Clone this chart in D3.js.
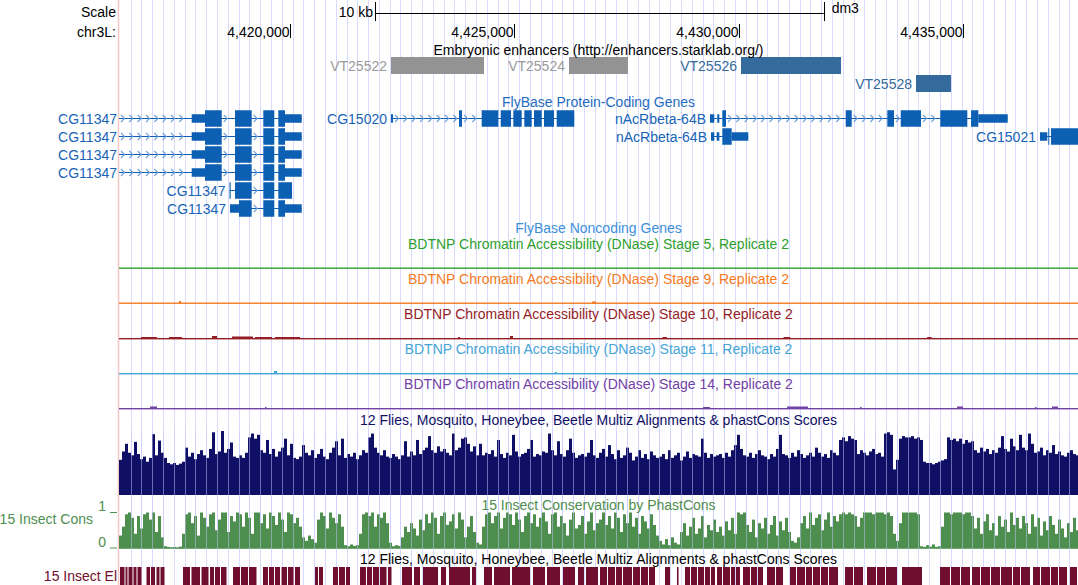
<!DOCTYPE html>
<html><head><meta charset="utf-8">
<script src="https://cdn.jsdelivr.net/npm/d3@7"></script>
<style>
body{margin:0;background:#fff}
svg{display:block}
text{font-family:"Liberation Sans",Arial,Helvetica,sans-serif;font-size:14px}
</style></head>
<body><svg id="c" width="1078" height="585"></svg>
<script>
// ---------------- DATA ----------------
const chromName = "chr3L:";
const assembly = "dm3";
const viewStart = 4416189, viewEnd = 4437562;
const rulerTicks = [4420000, 4425000, 4430000, 4435000];
const scaleBarBp = [4421894, 4431894];
const scaleBarLabel = "10 kb";

const enhancerTitle = "Embryonic enhancers (http://enhancers.starklab.org/)";
const enhancerNames = ["VT25522", "VT25524", "VT25526", "VT25528"];
const enhancerStarts = [4422251, 4426218, 4430052, 4433952];
const enhancerEnds = [4424324, 4427533, 4432280, 4434732];
const enhancerRows = [0, 0, 0, 1];
const enhancerActive = [false, false, true, true];

const geneTitle = "FlyBase Protein-Coding Genes";
const ncGeneTitle = "FlyBase Noncoding Genes";
const geneNames = ["CG11347", "CG11347", "CG11347", "CG11347", "CG11347", "CG11347",
  "CG15020", "nAcRbeta-64B", "nAcRbeta-64B", "CG15021"];
const geneRows = [0, 1, 2, 3, 4, 5, 0, 0, 1, 1];
const cg11347Full = [[4415600, 4415700], [4417809, 4418478], [4418774, 4419146], [4419405, 4419650], [4419739, 4420261]];
const geneExons = [
  cg11347Full, cg11347Full, cg11347Full, cg11347Full,
  [[4418652, 4418678], [4418774, 4419146], [4419405, 4419650], [4419739, 4420045]],
  [[4418663, 4419146], [4419405, 4419650], [4419739, 4420261]],
  [[4422251, 4422296], [4423767, 4423833], [4424272, 4424643], [4424696, 4424926], [4424977, 4425164],
   [4425222, 4425387], [4425438, 4425610], [4425661, 4425884], [4425944, 4426336]],
  [[4429361, 4429456], [4429523, 4429568], [4429635, 4429717], [4432385, 4432519], [4433312, 4433461],
   [4433611, 4434063], [4434493, 4435095], [4435178, 4435996]],
  [[4429383, 4429456], [4429510, 4429568], [4429635, 4430214]],
  [[4436715, 4436878], [4436900, 4436905], [4436960, 4437800]]
];
const geneCds = [
  [4418106, 4419889], [4418106, 4419889], [4418106, 4419889], [4418106, 4419889],
  [4418652, 4420045], [4418863, 4419889], [4423767, 4426336],
  [4429635, 4435340], [4429635, 4429844], [4436900, 4437800]
];

const dnaseTitles = [
  "BDTNP Chromatin Accessibility (DNase) Stage 5, Replicate 2",
  "BDTNP Chromatin Accessibility (DNase) Stage 9, Replicate 2",
  "BDTNP Chromatin Accessibility (DNase) Stage 10, Replicate 2",
  "BDTNP Chromatin Accessibility (DNase) Stage 11, Replicate 2",
  "BDTNP Chromatin Accessibility (DNase) Stage 14, Replicate 2"
];
// [start, end, signal]
const dnaseStage5 = [];
const dnaseStage9 = [[4417526, 4417571, 1.5], [4426731, 4426820, 1]];
const dnaseStage10 = [[4416679, 4417036, 1], [4417303, 4417593, 1], [4418262, 4418373, 2], [4418707, 4419175, 1.5],
  [4419220, 4419599, 1], [4419666, 4420223, 1], [4423744, 4423789, 1], [4424903, 4424970, 2],
  [4428300, 4428400, 1], [4431000, 4431150, 1], [4434200, 4434300, 1]];
const dnaseStage11 = [[4419643, 4419710, 2], [4425900, 4425950, 1]];
const dnaseStage14 = [[4416880, 4417036, 1.5], [4419443, 4419465, 1], [4429205, 4429361, 1], [4431077, 4431545, 1.5],
  [4432704, 4432726, 1], [4434866, 4435000, 1.5], [4436604, 4436627, 1], [4436983, 4437116, 1.5]];

const multizTitle = "12 Flies, Mosquito, Honeybee, Beetle Multiz Alignments & phastCons Scores";
const binStart = 4416189, binSize = 66.86;
const multizScores = [
  55, 68, 80, 66, 62, 83, 64, 56, 60, 52, 58, 95, 62, 85, 66, 58, 50, 48, 50, 47,
  49, 52, 74, 60, 66, 56, 64, 70, 62, 58, 72, 98, 64, 68, 100, 66, 72, 82, 60, 58,
  62, 58, 66, 90, 96, 88, 94, 70, 66, 86, 64, 72, 60, 68, 74, 88, 62, 80, 58, 56,
  60, 78, 66, 62, 70, 58, 64, 72, 60, 56, 66, 74, 84, 62, 88, 58, 64, 60, 66, 56,
  62, 70, 66, 90, 96, 74, 66, 62, 70, 60, 58, 64, 60, 56, 62, 84, 60, 68, 62, 86,
  64, 70, 74, 92, 70, 66, 76, 68, 72, 66, 62, 96, 70, 74, 88, 90, 80, 68, 76, 62,
  80, 62, 66, 64, 70, 60, 86, 64, 58, 66, 62, 94, 68, 60, 64, 66, 72, 86, 60, 64,
  62, 68, 66, 96, 70, 62, 84, 64, 60, 70, 88, 66, 58, 62, 64, 60, 66, 86, 62, 58,
  66, 72, 60, 78, 64, 56, 70, 58, 62, 74, 66, 54, 60, 70, 58, 64, 56, 68, 62, 58,
  60, 64, 56, 70, 58, 62, 66, 54, 60, 68, 58, 64, 62, 60, 88, 66, 58, 64, 60, 62,
  64, 58, 66, 60, 70, 78, 94, 72, 62, 60, 66, 58, 64, 70, 62, 60, 56, 64, 60, 72,
  94, 64, 62, 58, 66, 60, 70, 64, 58, 62, 66, 60, 74, 66, 60, 64, 58, 70, 66, 62,
  86, 90, 84, 92, 88, 86, 64, 70, 66, 62, 68, 72, 64, 66, 60, 96, 98, 94, 40, 55,
  88, 92, 90, 90, 92, 88, 90, 86, 52, 50, 50, 48, 50, 52, 54, 56, 90, 86, 88, 84,
  88, 80, 86, 82, 84, 70, 66, 74, 68, 72, 64, 70, 66, 74, 92, 72, 68, 88, 76, 70,
  94, 74, 70, 96, 80, 66, 68, 74, 62, 70, 66, 78, 64, 68, 62, 60, 66, 70, 64, 62
];

const consTitle = "15 Insect Conservation by PhastCons";
const consLabel = "15 Insect Cons";
const consAxisTicks = [0, 1];
const phastConsScores = [
  0.35, 0.60, 0.95, 1.00, 0.85, 0.40, 0.90, 0.55, 0.95, 1.00, 0.80, 1.00, 0.45, 0.90, 0.30, 0.05, 0.03, 0.02, 0.03, 0.02,
  0.04, 0.40, 0.95, 1.00, 0.70, 0.90, 0.35, 1.00, 0.85, 0.60, 0.95, 1.00, 0.50, 0.80, 1.00, 1.00, 0.45, 0.90, 0.75, 1.00,
  0.95, 0.60, 1.00, 0.85, 0.40, 1.00, 1.00, 0.70, 0.95, 0.55, 1.00, 0.90, 0.65, 1.00, 0.80, 0.45, 1.00, 0.95, 0.70, 0.85,
  0.60, 0.30, 0.20, 0.35, 0.25, 0.15, 0.80, 1.00, 0.90, 0.55, 1.00, 0.85, 0.70, 0.95, 0.60, 0.08, 0.05, 0.10, 0.06, 0.08,
  0.40, 0.95, 1.00, 0.90, 1.00, 0.60, 0.95, 0.85, 1.00, 0.70, 0.15, 0.05, 0.08, 0.06, 0.30, 0.60, 0.45, 0.70, 0.55, 0.35,
  0.80, 0.50, 0.95, 0.70, 1.00, 0.85, 0.40, 0.90, 1.00, 0.65, 0.75, 0.95, 0.55, 1.00, 0.80, 0.30, 0.60, 0.90, 0.45, 0.15,
  0.10, 0.60, 0.95, 1.00, 0.70, 0.90, 1.00, 0.55, 0.85, 1.00, 0.95, 0.65, 1.00, 0.80, 0.45, 0.90, 1.00, 0.70, 0.95, 0.60,
  0.85, 1.00, 0.75, 0.40, 0.95, 1.00, 0.60, 0.90, 0.70, 0.35, 0.80, 1.00, 0.55, 0.65, 0.90, 0.40, 0.75, 1.00, 0.50, 0.70,
  0.80, 1.00, 0.65, 0.90, 0.55, 1.00, 0.85, 0.45, 0.95, 0.70, 1.00, 0.60, 0.85, 0.40, 0.90, 0.75, 0.55, 0.95, 0.65, 0.35,
  0.20, 0.10, 0.25, 0.08, 0.30, 0.15, 0.10, 0.45, 0.70, 0.35, 0.60, 0.85, 0.40, 0.55, 0.90, 0.30, 0.65, 0.50, 0.80, 0.45,
  0.60, 0.35, 0.75, 0.50, 0.85, 0.40, 1.00, 0.95, 1.00, 0.65, 0.45, 0.80, 0.30, 0.70, 0.55, 0.85, 0.40, 0.65, 0.90, 0.35,
  0.75, 0.50, 0.85, 0.45, 0.20, 0.15, 0.30, 0.70, 0.90, 0.55, 1.00, 0.65, 0.85, 0.95, 0.50, 0.80, 1.00, 0.60, 0.90, 0.75,
  0.95, 1.00, 0.95, 1.00, 0.95, 0.90, 0.60, 0.85, 1.00, 1.00, 1.00, 0.95, 1.00, 1.00, 1.00, 0.95, 1.00, 0.90, 0.40, 0.20,
  0.70, 1.00, 1.00, 1.00, 1.00, 1.00, 0.95, 0.05, 0.03, 0.08, 0.04, 0.10, 0.03, 0.05, 0.60, 1.00, 1.00, 0.95, 1.00, 1.00,
  1.00, 0.95, 1.00, 1.00, 0.90, 0.55, 0.85, 0.40, 0.75, 0.95, 0.50, 0.70, 0.35, 0.90, 0.60, 0.80, 0.45, 1.00, 0.65, 0.85,
  0.55, 0.90, 0.70, 0.40, 0.95, 0.60, 0.85, 0.35, 0.75, 0.50, 0.90, 0.65, 0.40, 0.80, 0.55, 0.30, 0.70, 0.45, 0.85, 0.50
];

const elemTitle = "12 Flies, Mosquito, Honeybee, Beetle Multiz Alignments & phastCons Scores";
const elemLabel = "15 Insect El";
const consElements = [
  [4416211,4416312],[4416334,4416378],[4416401,4416490],[4416512,4416579],[4416601,4416690],
  [4416802,4416880],[4416902,4416991],[4417025,4417092],[4417114,4417203],
  [4417615,4417771],[4417805,4417994],[4418028,4418184],
  [4418217,4418306],[4418329,4418440],[4418462,4418585],
  [4418730,4418886],[4418908,4419064],[4419086,4419253],
  [4419398,4419509],[4419532,4419643],[4419666,4419777],
  [4419811,4419933],[4419956,4420078],[4420111,4420223],
  [4420557,4420624],[4420646,4420735],
  [4420958,4421069],[4421092,4421225],[4421248,4421337],
  [4421560,4421693],[4421716,4421827],[4421850,4421983],[4422006,4422151],[4422184,4422262],
  [4422496,4422719],[4422764,4422897],[4422964,4423299],[4423365,4423477],[4423544,4424012],[4424056,4424145],
  [4424324,4424502],[4424547,4424903],[4424948,4425349],[4425416,4425683],[4425728,4426018],[4426084,4426352],
  [4426419,4426552],[4426597,4426864],
  [4426909,4427065],[4427087,4427243],[4427266,4427399],[4427422,4427622],[4427645,4427801],[4427823,4427979],[4428001,4428135],
  [4428358,4428469],[4428625,4428659],
  [4428803,4428915],[4428937,4429071],[4429093,4429227],[4429249,4429361],[4429383,4429472],
  [4429517,4429628],[4429650,4429806],[4429829,4429918],[4429940,4430029],
  [4430096,4430252],[4430274,4430408],[4430430,4430542],
  [4430631,4430809],[4430832,4430988],
  [4431144,4431277],[4431300,4431478],[4431500,4431634],[4431656,4431812],[4431834,4431990],[4432013,4432213],
  [4432369,4432548],[4432570,4432771],
  [4432860,4433060],[4433083,4433261],[4433283,4433528],
  [4433640,4434085],
  [4434487,4434709],[4434732,4434932],[4434955,4435155],
  [4435200,4435378],[4435400,4435601],[4435623,4435824],[4435846,4436091],[4436114,4436270],[4436292,4436492],
  [4436559,4436715],[4436738,4436938],[4436960,4437116],[4437139,4437317],
  [4437384,4437540]
];

// ---------------- STYLE / LAYOUT ----------------
const L = 119, R = 1078, H = 585;
const C = {
  grid: "#dadaff", red: "#f7c6c6", gray: "#939393", grayText: "#9a9a9a", enh: "#356a9c",
  gene: "#0d5fb4", geneText: "#1763b6", chev: "#6f9fd8", geneTitle: "#1f6cc0", ncTitle: "#3d8fdb",
  dnase: ["#2ca02c", "#f47a22", "#971d25", "#46a5d6", "#7342a5"],
  multiz: "#0f0f66", cons: "#4e8e4e", elem: "#6f0e2e"
};

const x = d3.scaleLinear().domain([viewStart, viewEnd]).range([L, R]);
const svg = d3.select("#c");
svg.append("defs").append("clipPath").attr("id", "clip")
  .append("rect").attr("x", L).attr("y", 0).attr("width", R - L).attr("height", H);

// guidelines
const gridXs = d3.range(130.7, R, 10.79).map(v => Math.round(v) + 0.5);
svg.append("g").selectAll("line").data(gridXs).join("line")
  .attr("x1", d => d).attr("x2", d => d).attr("y1", 0).attr("y2", H)
  .attr("stroke", C.grid).attr("stroke-width", 1);
svg.append("line").attr("x1", L - 0.5).attr("x2", L - 0.5).attr("y1", 0).attr("y2", H)
  .attr("stroke", C.red).attr("stroke-width", 1.5);

const data = svg.append("g").attr("clip-path", "url(#clip)");
function label(t, xx, y, anchor, color) {
  return svg.append("text").attr("x", xx).attr("y", y).attr("text-anchor", anchor)
    .attr("fill", color || "#000").text(t);
}
const mid = (L + R) / 2;

// ruler
label("Scale", 116, 17, "end");
label(chromName, 116, 37, "end");
const sb0 = x(scaleBarBp[0]), sb1 = x(scaleBarBp[1]);
svg.append("line").attr("x1", sb0).attr("x2", sb1).attr("y1", 13.5).attr("y2", 13.5).attr("stroke", "#000");
[sb0, sb1].forEach(v => svg.append("line").attr("x1", Math.round(v) + 0.5).attr("x2", Math.round(v) + 0.5)
  .attr("y1", 2).attr("y2", 21).attr("stroke", "#000"));
label(scaleBarLabel, sb0 - 2, 17, "end");
label(assembly, sb1 + 8, 13, "start");
rulerTicks.forEach(t => {
  const tx = Math.round(x(t)) + 0.5;
  svg.append("line").attr("x1", tx).attr("x2", tx).attr("y1", 24).attr("y2", 38).attr("stroke", "#000");
  label(d3.format(",")(t), tx - 1, 37, "end");
});

// enhancers
label(enhancerTitle, mid, 55, "middle");
enhancerNames.forEach((n, i) => {
  const top = 57 + 18 * enhancerRows[i];
  const col = enhancerActive[i] ? C.enh : C.gray;
  data.append("rect").attr("x", x(enhancerStarts[i])).attr("y", top)
    .attr("width", x(enhancerEnds[i]) - x(enhancerStarts[i])).attr("height", 17).attr("fill", col);
  label(n, x(enhancerStarts[i]) - 4, top + 13.5, "end", enhancerActive[i] ? C.enh : C.grayText);
});

// genes
label(geneTitle, mid, 106.7, "middle", C.geneTitle);
geneNames.forEach((n, i) => {
  const cy = 118.5 + 18 * geneRows[i];
  const ex = geneExons[i], cds = geneCds[i];
  const s = ex[0][0], e = ex[ex.length - 1][1];
  const g = data.append("g");
  g.append("line").attr("x1", x(s)).attr("x2", x(e)).attr("y1", cy).attr("y2", cy)
    .attr("stroke", C.gene).attr("stroke-width", 1);
  // chevrons in introns
  for (let k = 0; k < ex.length - 1; k++) {
    const a = Math.max(x(ex[k][1]), L), b = x(ex[k + 1][0]);
    for (let cx = a + 4; cx < b - 2.5; cx += 8.33) {
      g.append("path").attr("d", `M${cx - 2},${cy - 3.5}L${cx + 1.5},${cy}L${cx - 2},${cy + 3.5}`)
        .attr("fill", "none").attr("stroke", C.chev).attr("stroke-width", 1.1);
    }
  }
  ex.forEach(([a, b]) => {
    const parts = [];
    const cs = Math.max(a, cds[0]), ce = Math.min(b, cds[1]);
    if (cs < ce) {
      if (a < cs) parts.push([a, cs, false]);
      parts.push([cs, ce, true]);
      if (ce < b) parts.push([ce, b, false]);
    } else parts.push([a, b, false]);
    parts.forEach(([p, q, thick]) => {
      const h = thick ? 16.5 : 8.5;
      g.append("rect").attr("x", x(p)).attr("y", cy - h / 2).attr("width", Math.max(x(q) - x(p), 1))
        .attr("height", h).attr("fill", C.gene);
    });
  });
  const lx = s < viewStart ? 117 : x(s) - 4;
  label(n, lx, cy + 5, "end", C.geneText);
});
label(ncGeneTitle, mid, 232.7, "middle", C.ncTitle);

// DNase tracks
const dnaseData = [dnaseStage5, dnaseStage9, dnaseStage10, dnaseStage11, dnaseStage14];
const dnaseLabelY = [249.3, 284, 319.3, 354.3, 389];
const dnaseBase = [268.5, 303.5, 339, 374, 409];
dnaseTitles.forEach((t, i) => {
  label(t, mid, dnaseLabelY[i], "middle", C.dnase[i]);
  data.append("rect").attr("x", L).attr("y", dnaseBase[i] - 1).attr("width", R - L).attr("height", 1.4)
    .attr("fill", C.dnase[i]);
  dnaseData[i].forEach(([a, b, v]) => {
    data.append("rect").attr("x", x(a)).attr("y", dnaseBase[i] - 1 - v).attr("width", Math.max(x(b) - x(a), 1.5))
      .attr("height", v + 1).attr("fill", C.dnase[i]);
  });
});

// multiz
label(multizTitle, mid, 425, "middle", C.multiz);
const yM = d3.scaleLinear().domain([0, 100]).range([495, 431]);
data.append("g").selectAll("rect").data(multizScores).join("rect")
  .attr("x", (d, i) => x(binStart + i * binSize))
  .attr("width", x(binStart + binSize) - x(binStart))
  .attr("y", d => yM(d)).attr("height", d => 495 - yM(d))
  .attr("fill", C.multiz);

// phastCons
label(consTitle, mid, 510, "middle", C.cons);
label(consLabel, 93, 524, "end", C.cons);
const yC = d3.scaleLinear().domain([0, 1]).range([548, 512.5]);
consAxisTicks.forEach(t => {
  label(String(t), 106, yC(t) + (t === 1 ? -2 : -1.5), "end", C.cons);
  svg.append("line").attr("x1", 110).attr("x2", 117).attr("y1", yC(t)).attr("y2", yC(t))
    .attr("stroke", C.cons).attr("stroke-width", 1);
});
data.append("g").selectAll("rect").data(phastConsScores).join("rect")
  .attr("x", (d, i) => x(binStart + i * binSize))
  .attr("width", x(binStart + binSize) - x(binStart))
  .attr("y", d => yC(d)).attr("height", d => 548 - yC(d) + 0.8)
  .attr("fill", C.cons);

// guidelines faintly over wiggles
data.append("g").selectAll("line").data(gridXs).join("line")
  .attr("x1", d => d).attr("x2", d => d).attr("y1", 431).attr("y2", 549)
  .attr("stroke", "#c8c8ff").attr("stroke-opacity", 0.5);

// conserved elements
label(elemTitle, mid, 564, "middle", "#000");
label(elemLabel, 117, 581, "end", C.elem);
data.append("g").selectAll("rect").data(consElements).join("rect")
  .attr("x", d => x(d[0])).attr("width", d => Math.max(x(d[1]) - x(d[0]), 1))
  .attr("y", 567).attr("height", 20).attr("fill", C.elem);
</script>
</body></html>
